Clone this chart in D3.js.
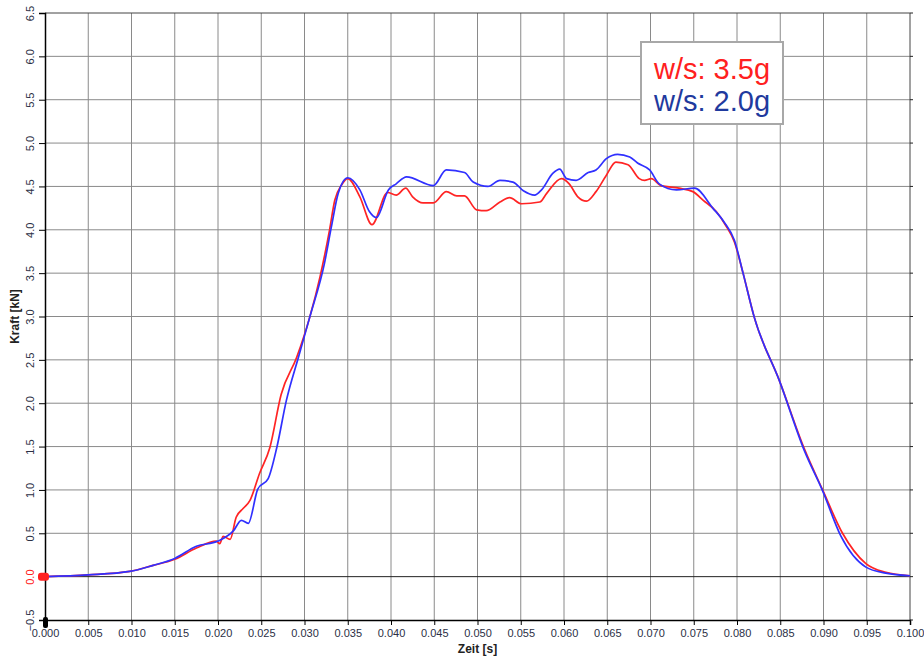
<!DOCTYPE html>
<html>
<head>
<meta charset="utf-8">
<script src="https://cdn.jsdelivr.net/npm/d3@7"></script>
<style>
  body { margin: 0; background: #fff; }
  svg { display: block; font-family: "Liberation Sans", Arial, sans-serif; }
</style>
</head>
<body>
<svg id="chart" width="924" height="659"></svg>
<script>
"use strict";

// red curve: w/s 3.5g
const redTime = [0, 0.005, 0.0098, 0.0125, 0.015, 0.0175, 0.0198, 0.0202, 0.0206, 0.0214, 0.0221, 0.0229, 0.0237, 0.0248, 0.026, 0.0273, 0.0291, 0.0306, 0.0318, 0.0329, 0.0335, 0.0343, 0.035, 0.0364, 0.0378, 0.0396, 0.0406, 0.0417, 0.0425, 0.0437, 0.0449, 0.0464, 0.0476, 0.0485, 0.0499, 0.051, 0.0526, 0.0537, 0.0551, 0.0572, 0.058, 0.0597, 0.0606, 0.0616, 0.0626, 0.0637, 0.0649, 0.066, 0.0674, 0.0687, 0.0693, 0.0701, 0.0712, 0.0733, 0.0749, 0.0761, 0.0776, 0.0787, 0.0797, 0.0807, 0.082, 0.0849, 0.0878, 0.0899, 0.0922, 0.0949, 0.0972, 0.1];
const redForce = [0, 0.02, 0.06, 0.13, 0.2, 0.33, 0.41, 0.38, 0.465, 0.43, 0.685, 0.785, 0.88, 1.19, 1.49, 2.1, 2.53, 2.99, 3.46, 4.0, 4.34, 4.52, 4.59, 4.38, 4.06, 4.43, 4.40, 4.48, 4.38, 4.31, 4.31, 4.44, 4.39, 4.39, 4.23, 4.22, 4.32, 4.37, 4.30, 4.32, 4.42, 4.59, 4.53, 4.38, 4.33, 4.44, 4.63, 4.78, 4.75, 4.59, 4.57, 4.59, 4.51, 4.48, 4.44, 4.34, 4.21, 4.05, 3.86, 3.50, 2.99, 2.26, 1.47, 1.0, 0.5, 0.15, 0.05, 0.01];

// blue curve: w/s 2.0g
const blueTime = [0, 0.005, 0.0098, 0.0125, 0.015, 0.0175, 0.02, 0.0218, 0.0227, 0.0235, 0.0246, 0.0258, 0.0268, 0.0279, 0.0293, 0.0306, 0.0323, 0.0331, 0.0339, 0.035, 0.0364, 0.0375, 0.0383, 0.0397, 0.0406, 0.0418, 0.0449, 0.0464, 0.0485, 0.0495, 0.0512, 0.0526, 0.0541, 0.0553, 0.0566, 0.0574, 0.0587, 0.0595, 0.0603, 0.0614, 0.0628, 0.0637, 0.0649, 0.0662, 0.0676, 0.0685, 0.0699, 0.071, 0.073, 0.0751, 0.0772, 0.0785, 0.0797, 0.0807, 0.082, 0.0849, 0.0878, 0.0899, 0.092, 0.0949, 0.0972, 0.1];
const blueForce = [0, 0.02, 0.06, 0.13, 0.21, 0.35, 0.41, 0.53, 0.65, 0.615, 1.01, 1.13, 1.49, 2.03, 2.53, 2.99, 3.61, 4.03, 4.42, 4.6, 4.46, 4.21, 4.14, 4.46, 4.53, 4.61, 4.51, 4.69, 4.66, 4.55, 4.50, 4.57, 4.55, 4.45, 4.40, 4.46, 4.65, 4.70, 4.59, 4.57, 4.66, 4.69, 4.82, 4.87, 4.84, 4.77, 4.69, 4.53, 4.46, 4.48, 4.25, 4.09, 3.88, 3.50, 2.99, 2.26, 1.45, 0.99, 0.47, 0.11, 0.04, 0.01];

const xTicks = d3.range(0, 21).map(i => i * 0.005);
const yTicks = d3.range(-1, 14).map(i => i * 0.5);
const legendLabels = ["w/s: 3.5g", "w/s: 2.0g"];

const pl = 45, pr = 910, pt = 13, pb = 620;

const svg = d3.select("#chart");
const x = d3.scaleLinear().domain([0, 0.1]).range([pl, pr]);
const y = d3.scaleLinear().domain([-0.5, 6.5]).range([pb, pt]);

// grid
svg.append("g")
  .selectAll("line")
  .data(xTicks.slice(1, -1))
  .join("line")
  .attr("x1", d => x(d)).attr("x2", d => x(d))
  .attr("y1", pt).attr("y2", pb)
  .attr("stroke", "#8a8a8a").attr("stroke-width", 1);

svg.append("g")
  .selectAll("line")
  .data(yTicks.slice(1, -1))
  .join("line")
  .attr("x1", pl).attr("x2", pr)
  .attr("y1", d => y(d)).attr("y2", d => y(d))
  .attr("stroke", d => Math.abs(d) < 1e-9 ? "#222" : "#8a8a8a").attr("stroke-width", 1);

// frame
svg.append("line").attr("x1", pl).attr("x2", pr).attr("y1", pt).attr("y2", pt)
  .attr("stroke", "#444");
svg.append("line").attr("x1", pr).attr("x2", pr).attr("y1", pt).attr("y2", pb)
  .attr("stroke", "#444");

// axes
const fmtX = d3.format(".3f");
const fmtY = d3.format(".1f");

const xAxis = svg.append("g")
  .attr("transform", `translate(0,${pb})`)
  .call(d3.axisBottom(x).tickValues(xTicks).tickFormat(fmtX).tickSizeOuter(0).tickSize(5).tickPadding(4));
xAxis.select(".domain").attr("stroke", "#000").attr("stroke-width", 1.5);
xAxis.selectAll("text").attr("font-size", 11).attr("fill", "#2b2f45")
  .attr("font-family", "Liberation Sans, Arial, sans-serif");

const yAxis = svg.append("g")
  .attr("transform", `translate(${pl},0)`)
  .call(d3.axisLeft(y).tickValues(yTicks).tickFormat(fmtY).tickSizeOuter(0).tickSize(6));
yAxis.select(".domain").attr("stroke", "#000").attr("stroke-width", 1.5);
yAxis.selectAll("text")
  .attr("font-size", 11)
  .attr("fill", d => Math.abs(d) < 1e-9 ? "#ff2020" : "#2b2f45")
  .attr("font-family", "Liberation Sans, Arial, sans-serif")
  .attr("text-anchor", "middle")
  .attr("x", 0).attr("dy", 0)
  .attr("transform", "translate(-11,0) rotate(-90)");

// right ticks
svg.append("g")
  .selectAll("line")
  .data(yTicks)
  .join("line")
  .attr("x1", pr).attr("x2", pr + 3)
  .attr("y1", d => y(d)).attr("y2", d => y(d))
  .attr("stroke", "#222");

// axis titles
svg.append("text")
  .attr("x", (pl + pr) / 2).attr("y", 653)
  .attr("text-anchor", "middle")
  .attr("font-size", 12).attr("font-weight", "bold").attr("fill", "#222")
  .text("Zeit [s]");

svg.append("text")
  .attr("transform", `translate(19,${(pt + pb) / 2}) rotate(-90)`)
  .attr("text-anchor", "middle")
  .attr("font-size", 12).attr("font-weight", "bold").attr("fill", "#222")
  .text("Kraft [kN]");

// curves
const line = d3.line().curve(d3.curveMonotoneX).x(d => x(d[0])).y(d => y(d[1]));

svg.append("path")
  .datum(redTime.map((t, i) => [t, redForce[i]]))
  .attr("d", line)
  .attr("fill", "none").attr("stroke", "#ff2424").attr("stroke-width", 1.7)
  .attr("stroke-linejoin", "round");

svg.append("path")
  .datum(blueTime.map((t, i) => [t, blueForce[i]]))
  .attr("d", line)
  .attr("fill", "none").attr("stroke", "#3030ff").attr("stroke-width", 1.7)
  .attr("stroke-linejoin", "round");

// markers at origin
svg.append("rect")
  .attr("x", x(0) - 7).attr("y", y(0) - 4).attr("width", 11).attr("height", 8).attr("rx", 3)
  .attr("fill", "#ff2020");
svg.append("rect")
  .attr("x", x(0) - 2).attr("y", y(-0.5) - 3).attr("width", 5).attr("height", 11).attr("rx", 2)
  .attr("fill", "#000");

// legend
const legend = svg.append("g");
legend.append("rect")
  .attr("x", 641).attr("y", 42).attr("width", 142).attr("height", 82)
  .attr("fill", "#fff").attr("stroke", "#a8a8a8").attr("stroke-width", 2);
legend.selectAll("text")
  .data(legendLabels)
  .join("text")
  .attr("x", 712).attr("y", (d, i) => 79 + i * 32)
  .attr("text-anchor", "middle")
  .attr("font-size", 29)
  .attr("fill", (d, i) => i === 0 ? "#ff2020" : "#1f3a9e")
  .text(d => d);
</script>
</body>
</html>
